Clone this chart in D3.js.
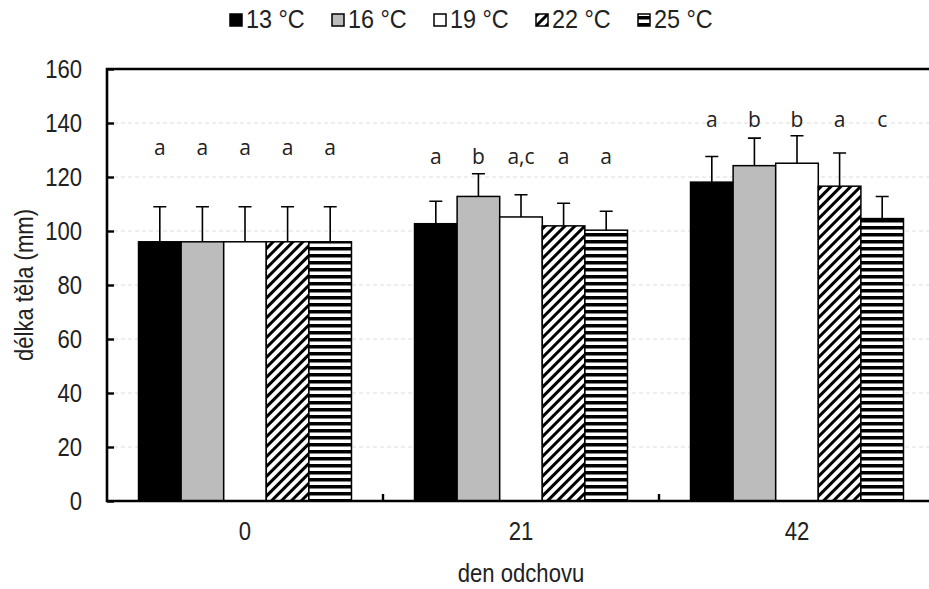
<!DOCTYPE html>
<html>
<head>
<meta charset="utf-8">
<script src="https://cdn.jsdelivr.net/npm/d3@7"></script>
<style>
  body { margin: 0; background: #fff; }
  svg { display: block; }
  text { font-family: "Liberation Sans", Arial, sans-serif; fill: #222; }
</style>
</head>
<body>
<div id="display"></div>
<script>
var days = ['0', '21', '42'];
var temps = ['13 °C', '16 °C', '19 °C', '22 °C', '25 °C'];

// mean body length (mm) per day, one value per temperature
var means = [
  [96, 96, 96, 96, 96],
  [102.7, 112.8, 105.2, 101.9, 100.3],
  [118.1, 124.2, 125.1, 116.6, 104.6]
];
// standard deviation (only upper whisker drawn)
var sds = [
  [13, 13, 13, 13, 13],
  [8.3, 8.4, 8.2, 8.4, 7],
  [9.5, 10.2, 10.2, 12.3, 8.2]
];
var letters = [
  ['a', 'a', 'a', 'a', 'a'],
  ['a', 'b', 'a,c', 'a', 'a'],
  ['a', 'b', 'b', 'a', 'c']
];
var letterLevel = [130.5, 127.3, 140.8];
var yTicks = [0, 20, 40, 60, 80, 100, 120, 140, 160];

var width = 929, height = 589;
var margin = {left: 107, top: 69, bottom: 88};
var plotW = 828;   // plot keeps going past the right edge of the picture
var sx = 0.85;     // the original text is a bit squeezed sideways
var fs = '26px';

var svg = d3.select('#display').append('svg')
  .attr('width', width)
  .attr('height', height);

var defs = svg.append('defs');

var diag = defs.append('pattern')
  .attr('id', 'diag')
  .attr('patternUnits', 'userSpaceOnUse')
  .attr('width', 7).attr('height', 7)
  .attr('patternTransform', 'rotate(45)');
diag.append('rect').attr('width', 7).attr('height', 7).attr('fill', '#fff');
diag.append('rect').attr('width', 3).attr('height', 7).attr('fill', '#000');

var horiz = defs.append('pattern')
  .attr('id', 'horiz')
  .attr('patternUnits', 'userSpaceOnUse')
  .attr('width', 7).attr('height', 7);
horiz.append('rect').attr('width', 7).attr('height', 7).attr('fill', '#fff');
horiz.append('rect').attr('y', 2).attr('width', 7).attr('height', 3.5).attr('fill', '#000');

var fills = ['#000', '#bcbcbc', '#fff', 'url(#diag)', 'url(#horiz)'];

var y = d3.scaleLinear()
  .domain([0, 160])
  .range([height - margin.bottom, margin.top]);

var x0 = d3.scaleBand()
  .domain(days)
  .range([margin.left, margin.left + plotW])
  .padding(0);

var x1 = d3.scaleBand()
  .domain(temps)
  .range([0, x0.bandwidth()])
  .paddingInner(0)
  .paddingOuter(0.74);

// faint dashed grid
svg.append('g')
  .selectAll('line')
  .data(yTicks.filter(function(t) { return t > 0 && t < 160; }))
  .enter().append('line')
  .attr('x1', margin.left).attr('x2', margin.left + plotW)
  .attr('y1', function(d) { return y(d); })
  .attr('y2', function(d) { return y(d); })
  .attr('stroke', '#dcdcdc')
  .attr('stroke-width', 1)
  .attr('stroke-dasharray', '4,3');

var groups = svg.append('g')
  .selectAll('g')
  .data(days)
  .enter().append('g')
  .attr('transform', function(d) { return 'translate(' + x0(d) + ',0)'; });

groups.each(function(day, gi) {
  var g = d3.select(this);
  var rows = temps.map(function(t, i) {
    return {t: t, i: i, m: means[gi][i], sd: sds[gi][i], l: letters[gi][i]};
  });

  // whiskers first so bars sit on top of the stem
  g.selectAll('.err')
    .data(rows)
    .enter().append('path')
    .attr('class', 'err')
    .attr('d', function(d) {
      var cx = x1(d.t) + x1.bandwidth() / 2;
      var top = y(d.m + d.sd);
      return 'M' + cx + ',' + y(d.m) + 'V' + top + 'M' + (cx - 6.5) + ',' + top + 'H' + (cx + 6.5);
    })
    .attr('stroke', '#000')
    .attr('stroke-width', 1.6)
    .attr('fill', 'none');

  g.selectAll('.bar')
    .data(rows)
    .enter().append('rect')
    .attr('class', 'bar')
    .attr('x', function(d) { return x1(d.t); })
    .attr('width', x1.bandwidth())
    .attr('y', function(d) { return y(d.m); })
    .attr('height', function(d) { return y(0) - y(d.m); })
    .attr('fill', function(d) { return fills[d.i]; })
    .attr('stroke', '#000')
    .attr('stroke-width', 1.5);

  g.selectAll('.sig')
    .data(rows)
    .enter().append('text')
    .attr('class', 'sig')
    .attr('x', function(d) { return x1(d.t) + x1.bandwidth() / 2; })
    .attr('y', y(letterLevel[gi]))
    .attr('dy', '0.3em')
    .attr('text-anchor', 'middle')
    .style('font-family', '"Open Sans", sans-serif')
    .style('font-size', '21px')
    .text(function(d) { return d.l; });
});

// frame: left axis, bottom axis, top line
svg.append('path')
  .attr('d', 'M' + (margin.left + plotW) + ',' + margin.top + 'H' + margin.left +
             'V' + y(0) + 'H' + (margin.left + plotW))
  .attr('fill', 'none')
  .attr('stroke', '#000')
  .attr('stroke-width', 2.6);

var yAxis = svg.append('g')
  .attr('transform', 'translate(' + margin.left + ',0)')
  .call(d3.axisLeft(y).tickValues(yTicks).tickSize(-7).tickPadding(25));
yAxis.select('.domain').remove();
yAxis.selectAll('line').attr('stroke', '#000').attr('stroke-width', 2.4);
yAxis.selectAll('text')
  .style('font-family', '"Liberation Sans", Arial, sans-serif')
  .style('font-size', fs)
  .attr('fill', '#222')
  .attr('x', -25 / sx)
  .attr('transform', 'scale(' + sx + ',1)');

var xAxis = svg.append('g')
  .attr('transform', 'translate(0,' + y(0) + ')')
  .call(d3.axisBottom(x0).tickSize(0).tickPadding(21));
xAxis.select('.domain').remove();
xAxis.selectAll('text')
  .style('font-family', '"Liberation Sans", Arial, sans-serif')
  .style('font-size', fs)
  .attr('fill', '#222')
  .attr('dy', '0.68em')
  .attr('transform', 'scale(' + sx + ',1)');

// small ticks between the day groups
svg.append('g')
  .selectAll('line')
  .data(days.slice(1))
  .enter().append('line')
  .attr('x1', function(d) { return x0(d); })
  .attr('x2', function(d) { return x0(d); })
  .attr('y1', y(0))
  .attr('y2', y(0) - 7)
  .attr('stroke', '#000')
  .attr('stroke-width', 2.4);

svg.append('text')
  .attr('transform', 'translate(24,' + ((y(0) + y(160)) / 2) + ') rotate(-90) scale(' + sx + ',1)')
  .attr('text-anchor', 'middle')
  .attr('dy', '0.35em')
  .style('font-size', fs)
  .text('délka těla (mm)');

svg.append('text')
  .attr('transform', 'translate(' + (x0('21') + x0.bandwidth() / 2) + ',582) scale(' + sx + ',1)')
  .attr('text-anchor', 'middle')
  .style('font-size', fs)
  .text('den odchovu');

// legend
var legend = svg.append('g')
  .selectAll('g')
  .data(temps)
  .enter().append('g')
  .attr('transform', function(d, i) { return 'translate(' + (230 + i * 102) + ',14)'; });

legend.append('rect')
  .attr('width', 12).attr('height', 12)
  .attr('fill', function(d, i) { return fills[i]; })
  .attr('stroke', '#000')
  .attr('stroke-width', 1.5);

legend.append('text')
  .attr('transform', 'translate(16,14) scale(0.9,1)')
  .style('font-size', fs)
  .text(function(d) { return d; });
</script>
</body>
</html>
